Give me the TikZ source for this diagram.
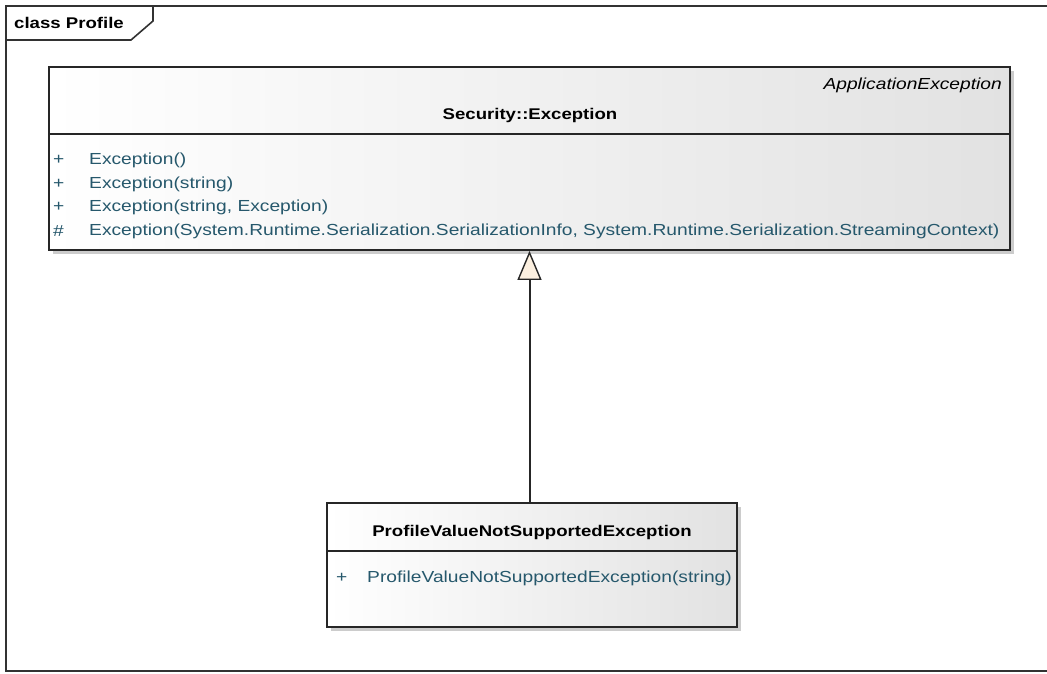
\documentclass[tikz,border=0pt]{standalone}
\usepackage{fontspec}
\setmainfont[FakeStretch=1.2]{Liberation Sans}
\usetikzlibrary{arrows.meta,shadows,calc}
\definecolor{optext}{RGB}{38,88,108}
\definecolor{framecol}{RGB}{50,50,50}
\definecolor{cream}{RGB}{252,240,224}
\definecolor{grad}{RGB}{226,226,226}
\tikzset{
  umlclass/.style={draw=black!85, line width=1.8pt, rectangle, inner sep=0pt,
    left color=white, right color=grad,
    general shadow={shadow xshift=4pt, shadow yshift=-4pt, fill=black!20}},
  umltxt/.style={inner sep=0pt, font=\fontsize{16}{18}\selectfont},
  optxt/.style={umltxt, text=optext, anchor=west},
  titletxt/.style={umltxt, font=\fontsize{15.5}{18}\selectfont\bfseries},
  gen/.style={draw=black!85, line width=2pt,
    -{Triangle[open, width=24pt, length=29pt, fill=cream, line width=1.4pt]}},
}
\begin{document}
\begin{tikzpicture}[x=1pt, y=-1pt]
\useasboundingbox (0,0) rectangle (1047,673);
% frame
\draw[framecol, line width=2pt] (1047,6) -- (6,6) -- (6,671) -- (1047,671);
\draw[framecol, line width=1.6pt] (6,40) -- (131,40) -- (153,21) -- (153,6);
\node[titletxt, anchor=west] (frm) at (14,23) {class Profile};
% class 1
\node[umlclass, minimum width=961pt, minimum height=183pt] (c1) at (529.5,158.5) {};
\draw[black!85, line width=1.8pt] ($(c1.north west)+(0,67.5)$) coordinate (d1l) -- (d1l -| c1.east);
\node[umltxt, font=\fontsize{16}{18}\selectfont\itshape, anchor=east] (ster) at (1002,85) {ApplicationException};
\node[titletxt] (t1) at (530,115) {Security::Exception};
\node[optxt] (v1) at (53,160) {+};
\node[optxt] (o1) at (89,160) {Exception()};
\node[optxt] (v2) at (53,184) {+};
\node[optxt] (o2) at (89,184) {Exception(string)};
\node[optxt] (v3) at (53,207) {+};
\node[optxt] (o3) at (89,207) {Exception(string, Exception)};
\node[optxt] (v4) at (53,231) {\#};
\node[optxt] (o4) at (89,231) {Exception(System.Runtime.Serialization.SerializationInfo, System.Runtime.Serialization.StreamingContext)};
% class 2
\node[umlclass, minimum width=410pt, minimum height=124pt] (c2) at (532,565) {};
\draw[black!85, line width=1.8pt] ($(c2.north west)+(0,49)$) coordinate (d2l) -- (d2l -| c2.east);
\node[titletxt] (t2) at (532,532) {ProfileValueNotSupportedException};
\node[optxt] (v5) at (336,578) {+};
\node[optxt] (o5) at (367,578) {ProfileValueNotSupportedException(string)};
% generalization
\draw[gen] (c1.south |- c2.north) -- (c1.south);
\end{tikzpicture}
\end{document}
